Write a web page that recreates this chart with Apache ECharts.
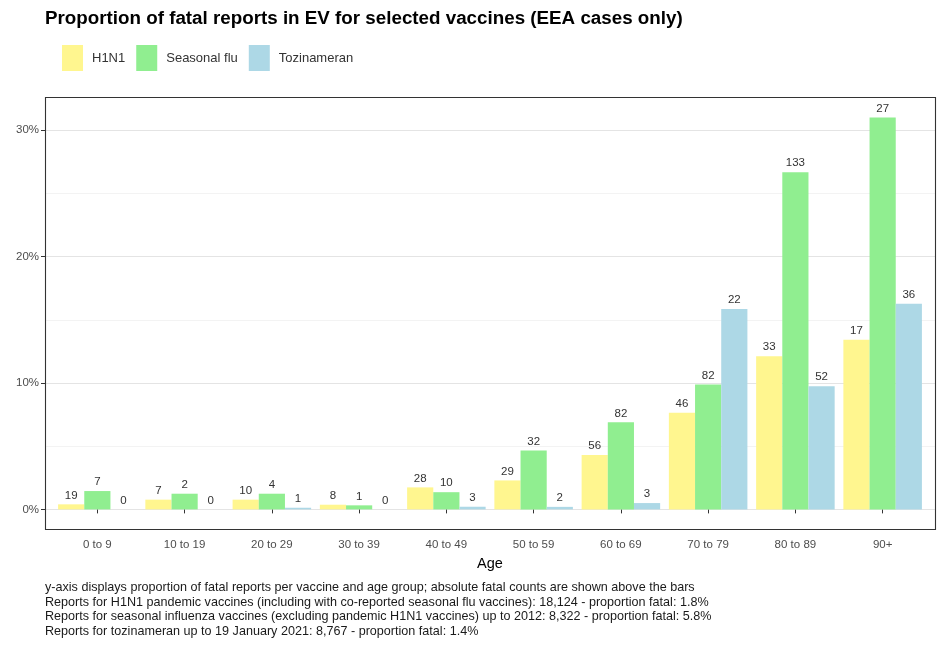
<!DOCTYPE html>
<html>
<head>
<meta charset="utf-8">
<script src="https://cdn.jsdelivr.net/npm/echarts@6/dist/echarts.min.js"></script>
<style>
html,body{margin:0;padding:0;background:#ffffff;}
#chart{width:943px;height:646px;}
</style>
</head>
<body>
<div id="chart"></div>
<script>
// ---- data ----
const ageGroups = ['0 to 9','10 to 19','20 to 29','30 to 39','40 to 49','50 to 59','60 to 69','70 to 79','80 to 89','90+'];
const seriesNames = ['H1N1','Seasonal flu','Tozinameran'];
// proportion fatal (%)
const h1n1Pct     = [0.40, 0.77, 0.77, 0.37, 1.74, 2.29, 4.30, 7.63, 12.10, 13.42];
const seasonalPct = [1.45, 1.24, 1.24, 0.32, 1.36, 4.66, 6.88, 9.87, 26.65, 30.97];
const tozinPct    = [0.00, 0.00, 0.13, 0.00, 0.21, 0.20, 0.50, 15.84, 9.73, 16.26];
// absolute fatal counts shown above bars
const h1n1Counts     = [19, 7, 10, 8, 28, 29, 56, 46, 33, 17];
const seasonalCounts = [7, 2, 4, 1, 10, 32, 82, 82, 133, 27];
const tozinCounts    = [0, 0, 1, 0, 3, 2, 3, 22, 52, 36];
const yTickValues = [0, 10, 20, 30];
const yGridValues = [0, 5, 10, 15, 20, 25, 30];
const titleText = 'Proportion of fatal reports in EV for selected vaccines (EEA cases only)';
const xAxisTitle = 'Age';
const footnotes = [
  'y-axis displays proportion of fatal reports per vaccine and age group; absolute fatal counts are shown above the bars',
  'Reports for H1N1 pandemic vaccines (including with co-reported seasonal flu vaccines): 18,124 - proportion fatal: 1.8%',
  'Reports for seasonal influenza vaccines (excluding pandemic H1N1 vaccines) up to 2012: 8,322 - proportion fatal: 5.8%',
  'Reports for tozinameran up to 19 January 2021: 8,767 - proportion fatal: 1.4%'
];
const colors = ['#FFF68F', '#90EE90', '#ADD8E6'];

// ---- layout ----
const FONT = '"Liberation Sans", Arial, Helvetica, sans-serif';
const panel = {left: 45, right: 935, top: 97, bottom: 529};
const band = (panel.right - panel.left) / (ageGroups.length + 0.2);
const gridLeft = panel.left + 0.1 * band;
const gridRight = 943 - (panel.right - 0.1 * band);

const chart = echarts.init(document.getElementById('chart'), null, {renderer: 'canvas'});

function makeSeries(name, values, counts, color) {
  return {
    name: name,
    type: 'bar',
    data: values,
    barWidth: '30%',
    barGap: '0%',
    itemStyle: {color: color},
    label: {
      show: true,
      position: 'top',
      distance: 3,
      fontFamily: FONT,
      fontSize: 11.5,
      color: '#333333',
      formatter: p => String(counts[p.dataIndex])
    },
    emphasis: {disabled: true},
    animation: false
  };
}

chart.setOption({
  animation: false,
  textStyle: {fontFamily: FONT},
  title: {
    text: titleText,
    left: 40,
    top: 4,
    textStyle: {fontFamily: FONT, fontSize: 18.8, fontWeight: 'bold', color: '#000000'}
  },
  legend: {
    data: seriesNames,
    left: 57,
    top: 40,
    icon: 'rect',
    itemWidth: 21,
    itemHeight: 26,
    itemGap: 11,
    selectedMode: false,
    textStyle: {fontFamily: FONT, fontSize: 13, color: '#333333', padding: [0, 0, 0, 4]}
  },
  grid: {
    left: gridLeft,
    right: gridRight,
    top: panel.top,
    bottom: 646 - panel.bottom
  },
  xAxis: {
    type: 'category',
    data: ageGroups,
    axisLine: {show: false},
    axisTick: {show: true, alignWithLabel: true, length: 4, lineStyle: {color: '#333333'}},
    axisLabel: {fontFamily: FONT, fontSize: 11.5, color: '#4d4d4d', margin: 10},
    splitLine: {show: false},
    name: xAxisTitle,
    nameLocation: 'middle',
    nameGap: 27,
    nameTextStyle: {fontFamily: FONT, fontSize: 14.5, color: '#000000'}
  },
  yAxis: {
    type: 'value',
    min: -1.55,
    max: 32.6,
    offset: gridLeft - panel.left,
    axisLine: {show: false},
    axisTick: {show: true, customValues: yTickValues, length: 4, lineStyle: {color: '#333333'}},
    axisLabel: {
      customValues: yTickValues,
      formatter: v => v + '%',
      fontFamily: FONT, fontSize: 11.5, color: '#4d4d4d', margin: 6
    },
    splitLine: {show: false}
  },
  series: [
    makeSeries(seriesNames[0], h1n1Pct, h1n1Counts, colors[0]),
    makeSeries(seriesNames[1], seasonalPct, seasonalCounts, colors[1]),
    makeSeries(seriesNames[2], tozinPct, tozinCounts, colors[2])
  ]
});

// gridlines across the full panel, positioned through the library's y scale
const graphics = [];
yGridValues.forEach(v => {
  const y = Math.round(chart.convertToPixel({yAxisIndex: 0}, v)) + 0.5;
  const major = v % 10 === 0;
  graphics.push({
    type: 'line', silent: true, z: 0,
    shape: {x1: panel.left, y1: y, x2: panel.right, y2: y},
    style: {stroke: major ? '#e4e4e4' : '#f0f0f0', lineWidth: major ? 1.1 : 0.8}
  });
});
graphics.push({
  type: 'rect', silent: true, z: 20,
  shape: {x: panel.left + 0.5, y: panel.top + 0.5, width: panel.right - panel.left, height: panel.bottom - panel.top},
  style: {fill: null, stroke: '#333333', lineWidth: 1.1}
});
footnotes.forEach((t, i) => {
  graphics.push({
    type: 'text', silent: true, z: 20,
    x: 45, y: 588 + i * 14.4,
    style: {text: t, fontFamily: FONT, fontSize: 12.6, fill: '#1a1a1a', verticalAlign: 'middle', align: 'left'}
  });
});
chart.setOption({graphic: graphics});
</script>
</body>
</html>
